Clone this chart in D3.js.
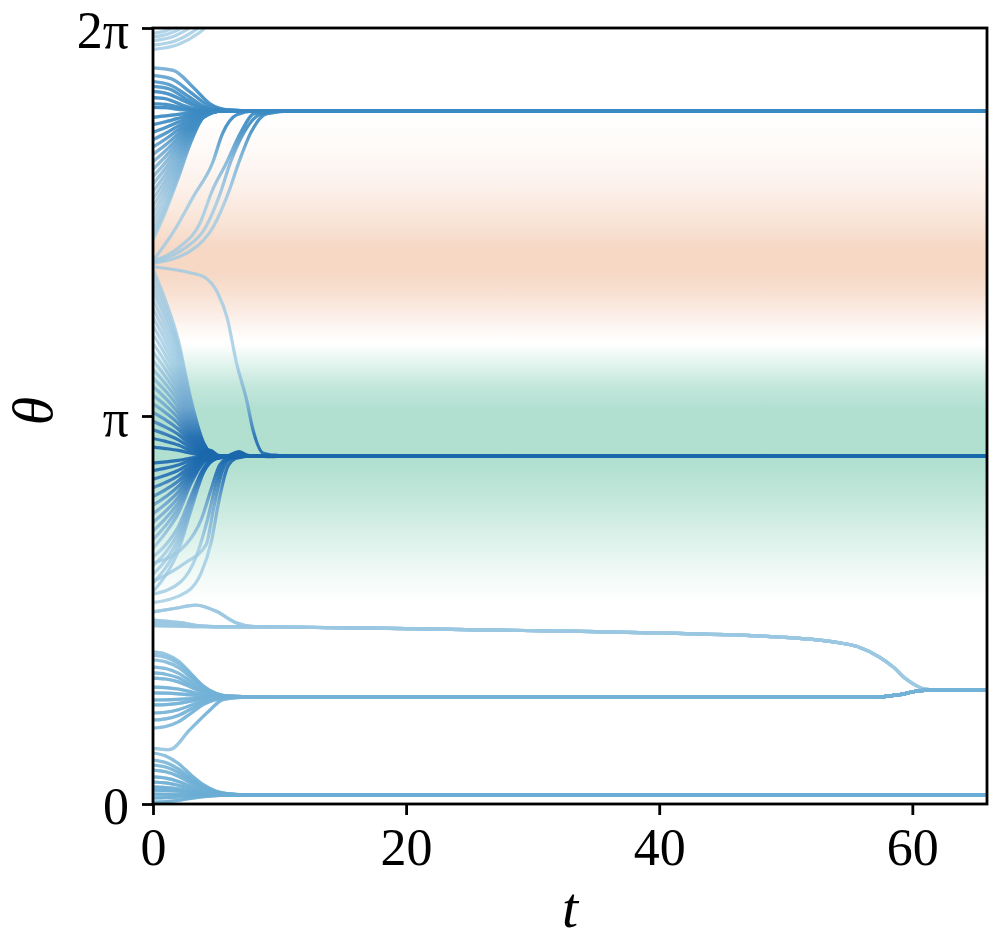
<!DOCTYPE html>
<html><head><meta charset="utf-8">
<script src="https://cdn.jsdelivr.net/npm/d3@7"></script>
<style>body{margin:0;background:#fff}</style>
</head><body><svg id="chart" width="998" height="950"></svg>
<script>
// ---------- data ----------
const xTicks = [0, 20, 40, 60];
const yTicks = [0, Math.PI, 2 * Math.PI];
const yTickLabels = ["0", "π", "2π"];
const tMax = 65.9;

// background scalar field along θ (negative = green, positive = orange)
const fieldTheta = [0, 1.62, 1.9, 2.2, 2.5, 2.75, 3.2, 3.4, 3.55, 3.68, 3.72, 3.78, 3.95, 4.15, 4.3, 4.5, 4.75, 5.0, 5.3, 5.6, 6.2832];
const fieldValue = [0, 0, -0.2, -0.5, -0.8, -1, -1, -0.75, -0.4, -0.1, 0, 0.05, 0.4, 0.8, 1, 1, 0.65, 0.35, 0.12, 0, 0];

// settled phase of each cluster
const clusterTheta = { A: 5.611, B: 2.818, C: 1.433, D: 0.866, E: 0.073 };

// trajectories as [t, θ] samples
const trajA = [
  [[0,5.96],[1.6,5.94],[3.2,5.80],[4.5,5.67],[6,5.62],[8,5.611],[66,5.611]],
  [[0,5.90],[1.5,5.87],[3,5.76],[4.3,5.66],[5.8,5.62],[8,5.611],[66,5.611]],
  [[0,5.85],[1.4,5.82],[2.8,5.73],[4,5.65],[5.5,5.615],[8,5.611],[66,5.611]],
  [[0,5.81],[1.3,5.79],[2.6,5.71],[3.8,5.645],[5.2,5.615],[8,5.611],[66,5.611]],
  [[0,5.77],[1.2,5.75],[2.5,5.69],[3.6,5.64],[5,5.615],[8,5.611],[66,5.611]],
  [[0,5.72],[1,5.71],[2.3,5.66],[3.5,5.625],[4.8,5.613],[8,5.611],[66,5.611]],
  [[0,5.67],[1,5.665],[2.2,5.64],[3.4,5.618],[4.6,5.612],[8,5.611],[66,5.611]],
  [[0,5.64],[1,5.638],[2,5.625],[3.3,5.613],[8,5.611],[66,5.611]],
  [[0,5.56],[1,5.571],[2,5.584],[3,5.599],[4,5.608],[5.5,5.611],[66,5.611]],
  [[0,5.50],[1,5.524],[2,5.553],[3,5.584],[4,5.605],[5.5,5.611],[66,5.611]],
  [[0,5.44],[1,5.478],[2,5.522],[3,5.570],[4,5.602],[5.5,5.611],[66,5.611]],
  [[0,5.38],[1,5.431],[2,5.491],[3,5.556],[4,5.599],[5.5,5.611],[66,5.611]],
  [[0,5.32],[1,5.384],[2,5.460],[3,5.541],[4,5.596],[5.5,5.611],[66,5.611]],
  [[0,5.26],[1,5.337],[2,5.428],[3,5.527],[4,5.593],[5.5,5.611],[66,5.611]],
  [[0,5.20],[1,5.290],[2,5.397],[3,5.512],[4,5.590],[5.5,5.611],[66,5.611]],
  [[0,5.14],[1,5.244],[2,5.366],[3,5.498],[4,5.587],[5.5,5.611],[66,5.611]],
  [[0,5.08],[1,5.197],[2,5.335],[3,5.484],[4,5.584],[5.5,5.611],[66,5.611]],
  [[0,5.02],[1,5.150],[2,5.304],[3,5.469],[4,5.581],[5.5,5.611],[66,5.611]],
  [[0,4.96],[1,5.103],[2,5.272],[3,5.455],[4,5.578],[5.5,5.611],[66,5.611]],
  [[0,4.90],[1,5.056],[2,5.241],[3,5.440],[4,5.575],[5.5,5.611],[66,5.611]],
  [[0,4.84],[1,5.010],[2,5.210],[3,5.426],[4,5.572],[5.5,5.611],[66,5.611]],
  [[0,4.78],[1,4.963],[2,5.179],[3,5.412],[4,5.569],[5.5,5.611],[66,5.611]],
  [[0,4.72],[1,4.916],[2,5.148],[3,5.397],[4,5.566],[5.5,5.611],[66,5.611]],
  [[0,4.66],[1,4.869],[2,5.116],[3,5.383],[4,5.563],[5.5,5.611],[66,5.611]],
  [[0,4.61],[1,4.830],[2,5.090],[3,5.371],[4,5.561],[5.5,5.611],[66,5.611]],
  [[0,4.57],[1,4.799],[2,5.070],[3,5.361],[4,5.559],[5.5,5.611],[66,5.611]],
  [[0,4.40],[1.6,4.63],[3.2,4.92],[4.7,5.19],[5.5,5.43],[6.6,5.58],[8,5.611],[66,5.611]],
  [[0,4.40],[2.1,4.51],[3.7,4.70],[4.7,4.97],[5.8,5.19],[6.9,5.43],[8,5.59],[10,5.611],[66,5.611]],
  [[0,4.39],[2.5,4.50],[4.1,4.66],[5.3,4.94],[6.1,5.19],[7.2,5.44],[8.6,5.59],[10.5,5.611],[66,5.611]],
  [[0,4.38],[3,4.48],[4.8,4.68],[6.0,4.96],[6.8,5.20],[7.7,5.43],[9,5.59],[11,5.611],[66,5.611]]
];

const trajB = [
  [[0,4.35],[3,4.30],[4,4.27],[5.1,4.14],[5.85,3.94],[6.6,3.57],[7.4,3.27],[7.9,3.03],[8.7,2.84],[10,2.82],[66,2.818]],
  [[0,4.33],[1,4.073],[2,3.755],[3,3.272],[4,2.924],[5,2.818],[66,2.818]],
  [[0,4.27],[1,4.023],[2,3.718],[3,3.254],[4,2.920],[5,2.818],[66,2.818]],
  [[0,4.21],[1,3.973],[2,3.681],[3,3.236],[4,2.915],[5,2.818],[66,2.818]],
  [[0,4.15],[1,3.924],[2,3.644],[3,3.218],[4,2.911],[5,2.818],[66,2.818]],
  [[0,4.08],[1,3.865],[2,3.600],[3,3.197],[4,2.906],[5,2.818],[66,2.818]],
  [[0,4.01],[1,3.807],[2,3.557],[3,3.176],[4,2.901],[5,2.818],[66,2.818]],
  [[0,3.94],[1,3.749],[2,3.513],[3,3.155],[4,2.897],[5,2.818],[66,2.818]],
  [[0,3.87],[1,3.691],[2,3.470],[3,3.134],[4,2.892],[5,2.818],[66,2.818]],
  [[0,3.80],[1,3.633],[2,3.427],[3,3.113],[4,2.887],[5,2.818],[66,2.818]],
  [[0,3.73],[1,3.575],[2,3.383],[3,3.092],[4,2.882],[5,2.818],[66,2.818]],
  [[0,3.66],[1,3.517],[2,3.340],[3,3.071],[4,2.877],[5,2.818],[66,2.818]],
  [[0,3.59],[1,3.459],[2,3.297],[3,3.050],[4,2.872],[5,2.818],[66,2.818]],
  [[0,3.52],[1,3.401],[2,3.255],[3,3.029],[4,2.867],[5,2.818],[66,2.818]],
  [[0,3.45],[1,3.343],[2,3.210],[3,3.008],[4,2.862],[5,2.818],[66,2.818]],
  [[0,3.38],[1,3.284],[2,3.166],[3,2.987],[4,2.857],[5,2.818],[66,2.818]],
  [[0,3.31],[1,3.226],[2,3.123],[3,2.966],[4,2.852],[5,2.818],[66,2.818]],
  [[0,3.24],[1,3.168],[2,3.080],[3,2.945],[4,2.848],[5,2.818],[66,2.818]],
  [[0,3.17],[1,3.110],[2,3.036],[3,2.924],[4,2.843],[5,2.818],[66,2.818]],
  [[0,3.10],[1,3.052],[2,2.993],[3,2.903],[4,2.838],[5,2.818],[66,2.818]],
  [[0,3.03],[1,2.994],[2,2.949],[3,2.882],[4,2.833],[5,2.818],[66,2.818]],
  [[0,2.96],[1,2.936],[2,2.906],[3,2.861],[4,2.828],[5,2.818],[66,2.818]],
  [[0,2.89],[1,2.878],[2,2.863],[3,2.840],[4,2.823],[5,2.818],[66,2.818]],
  [[0,2.76],[1,2.770],[2,2.782],[3,2.801],[4,2.814],[5,2.818],[66,2.818]],
  [[0,2.70],[1,2.720],[2,2.745],[3,2.783],[4,2.810],[5,2.818],[66,2.818]],
  [[0,2.63],[1,2.662],[2,2.701],[3,2.762],[4,2.805],[5,2.818],[66,2.818]],
  [[0,2.56],[1,2.604],[2,2.658],[3,2.741],[4,2.800],[5,2.818],[66,2.818]],
  [[0,2.49],[1,2.546],[2,2.615],[3,2.720],[4,2.795],[5,2.818],[66,2.818]],
  [[0,2.42],[1,2.488],[2,2.571],[3,2.699],[4,2.790],[5,2.818],[66,2.818]],
  [[0,2.35],[1,2.430],[2,2.528],[3,2.678],[4,2.785],[5,2.818],[66,2.818]],
  [[0,2.28],[1,2.371],[2,2.484],[3,2.657],[4,2.780],[5,2.818],[66,2.818]],
  [[0,2.21],[1,2.313],[2,2.441],[3,2.636],[4,2.775],[5,2.818],[66,2.818]],
  [[0,2.14],[1,2.255],[2,2.398],[3,2.615],[4,2.771],[5,2.818],[66,2.818]],
  [[0,2.07],[1,2.197],[2,2.354],[3,2.594],[4,2.766],[5,2.818],[66,2.818]],
  [[0,2.00],[1,2.098],[2,2.245],[3,2.491],[4,2.720],[5,2.802],[6.5,2.818],[66,2.818]],
  [[0,1.93],[1,2.037],[2,2.196],[3,2.463],[4,2.711],[5,2.800],[6.5,2.818],[66,2.818]],
  [[0,1.86],[1,1.975],[2,2.147],[3,2.435],[4,2.703],[5,2.799],[6.5,2.818],[66,2.818]],
  [[0,1.79],[1,1.913],[2,2.098],[3,2.407],[4,2.695],[5,2.797],[6.5,2.818],[66,2.818]],
  [[0,1.72],[1,1.852],[2,2.049],[3,2.379],[4,2.686],[5,2.796],[6.5,2.818],[66,2.818]],
  [[0,1.63],[2.7,1.72],[3.8,1.87],[4.6,2.12],[5.2,2.45],[5.9,2.73],[6.6,2.80],[8,2.818],[66,2.818]],
  [[0,1.70],[2.2,1.80],[3.4,2.00],[4.3,2.30],[5.0,2.60],[5.7,2.78],[7,2.815],[8.5,2.818],[66,2.818]],
  [[0,1.80],[2.5,1.95],[4.2,2.10],[4.8,2.40],[5.5,2.70],[6.2,2.80],[7.5,2.818],[66,2.818]],
  [[0,1.95],[2.6,2.10],[3.8,2.30],[4.6,2.55],[5.3,2.75],[6.2,2.81],[8,2.818],[66,2.818]]
];

// thickened, oscillating part of the middle cluster: [t, lower θ, upper θ]
const envelopeB = [[3.5,2.815,2.822],[3.9,2.79,2.86],[4.3,2.77,2.88],[4.8,2.78,2.865],[5.2,2.80,2.835],[5.7,2.808,2.828],[6.3,2.80,2.85],[6.8,2.795,2.866],[7.4,2.805,2.84],[8.0,2.81,2.826],[9.0,2.80,2.832],[9.6,2.80,2.835],[10.3,2.812,2.824]];

const tailC = [[20,1.42],[35,1.395],[49.5,1.352],[54.3,1.304],[55.8,1.27],[57.4,1.19],[58.6,1.10],[59.4,1.02],[60.2,0.965],[61,0.93],[62,0.923],[66,0.923]];
const trajC = [
  [[0,1.49],[2,1.47],[4,1.44],[6,1.435],[10,1.433]],
  [[0,1.465],[2,1.455],[4,1.438],[6,1.434],[10,1.433]],
  [[0,1.445],[2,1.44],[4,1.435],[10,1.433]],
  [[0,1.555],[1.8,1.585],[3.4,1.61],[5,1.56],[6.5,1.47],[8,1.437],[10,1.433]]
];

const tailD = [[10,0.866],[55.8,0.866],[57.4,0.868],[59,0.885],[60.6,0.918],[62,0.923],[66,0.923]];
const trajD = [
  [[0,1.231],[1,1.213],[2,1.158],[3,1.056],[4,0.954],[5,0.895],[6,0.873]],
  [[0,1.206],[1,1.189],[2,1.138],[3,1.043],[4,0.948],[5,0.893],[6,0.873]],
  [[0,1.166],[1,1.151],[2,1.106],[3,1.022],[4,0.938],[5,0.890],[6,0.872]],
  [[0,1.109],[1,1.097],[2,1.060],[3,0.992],[4,0.924],[5,0.885],[6,0.871]],
  [[0,1.061],[1,1.051],[2,1.022],[3,0.967],[4,0.913],[5,0.882],[6,0.870]],
  [[0,1.020],[1,1.012],[2,0.989],[3,0.946],[4,0.903],[5,0.878],[6,0.869]],
  [[0,0.947],[1,0.943],[2,0.931],[3,0.908],[4,0.885],[5,0.872],[6,0.868]],
  [[0,0.899],[1,0.897],[2,0.892],[3,0.883],[4,0.874],[5,0.869],[6,0.867]],
  [[0,0.842],[1,0.843],[2,0.847],[3,0.854],[4,0.860],[5,0.864],[6,0.866]],
  [[0,0.802],[1,0.805],[2,0.815],[3,0.833],[4,0.851],[5,0.861],[6,0.865]],
  [[0,0.737],[1,0.743],[2,0.763],[3,0.799],[4,0.835],[5,0.856],[6,0.863]],
  [[0,0.680],[1,0.689],[2,0.717],[3,0.769],[4,0.821],[5,0.851],[6,0.862]],
  [[0,0.615],[1,0.627],[2,0.665],[3,0.735],[4,0.806],[5,0.846],[6,0.861]],
  [[0,0.45],[1.3,0.44],[2.9,0.60],[4.5,0.76],[5.5,0.845],[7,0.866]]
];

const trajE = [
  [[0,0.413],[1,0.389],[2,0.328],[3,0.236],[4,0.155],[5,0.104],[6,0.083],[8,0.073],[66,0.073]],
  [[0,0.356],[1,0.336],[2,0.285],[3,0.209],[4,0.141],[5,0.098],[6,0.081],[8,0.073],[66,0.073]],
  [[0,0.316],[1,0.299],[2,0.255],[3,0.190],[4,0.131],[5,0.095],[6,0.080],[8,0.073],[66,0.073]],
  [[0,0.275],[1,0.261],[2,0.225],[3,0.170],[4,0.121],[5,0.091],[6,0.079],[8,0.073],[66,0.073]],
  [[0,0.219],[1,0.209],[2,0.183],[3,0.143],[4,0.108],[5,0.086],[6,0.077],[8,0.073],[66,0.073]],
  [[0,0.178],[1,0.171],[2,0.152],[3,0.123],[4,0.098],[5,0.082],[6,0.076],[8,0.073],[66,0.073]],
  [[0,0.138],[1,0.133],[2,0.122],[3,0.104],[4,0.089],[5,0.079],[6,0.075],[8,0.073],[66,0.073]],
  [[0,0.113],[1,0.110],[2,0.103],[3,0.092],[4,0.083],[5,0.077],[6,0.074],[8,0.073],[66,0.073]],
  [[0,0.080],[2,0.078],[4,0.075],[8,0.073],[66,0.073]],
  [[0,0.049],[1,0.051],[2,0.055],[3,0.061],[4,0.067],[5,0.071],[6,0.072],[8,0.073],[66,0.073]],
  [[0,0.016],[1,0.020],[2,0.030],[3,0.046],[4,0.059],[5,0.068],[6,0.071],[8,0.073],[66,0.073]]
];

// trajectories leaving through θ = 2π (they wrap round to the bottom cluster)
const trajWrap = [
  [[0,6.24],[1,6.26],[2,6.30],[2.5,6.33]],
  [[0,6.21],[1.2,6.235],[2.4,6.29],[3,6.33]],
  [[0,6.18],[1.5,6.21],[3,6.29],[3.6,6.33]],
  [[0,6.145],[1.8,6.18],[3.4,6.27],[4.2,6.33]],
  [[0,6.11],[2,6.15],[3.6,6.24],[4.6,6.33]]
];

// ---------- drawing ----------
const svg = d3.select("#chart");
const pL = 153, pR = 987, pT = 28, pB = 804;
const x = d3.scaleLinear().domain([0, tMax]).range([pL, pR]);
const y = d3.scaleLinear().domain([0, 2 * Math.PI]).range([pB, pT]);
const defs = svg.append("defs");

// background field gradient
const fieldColor = d3.scaleLinear().domain([-1, 0, 1]).range(["#b1e0d1", "#ffffff", "#f6d8c5"]);
const bg = defs.append("linearGradient").attr("id", "bg")
  .attr("gradientUnits", "userSpaceOnUse").attr("x1", 0).attr("x2", 0)
  .attr("y1", y(0)).attr("y2", y(2 * Math.PI));
fieldTheta.forEach((th, i) => {
  bg.append("stop").attr("offset", th / (2 * Math.PI)).attr("stop-color", fieldColor(fieldValue[i]));
});
svg.append("rect").attr("x", pL).attr("y", pT).attr("width", pR - pL).attr("height", pB - pT)
  .attr("fill", "url(#bg)");

defs.append("clipPath").attr("id", "plotclip").append("rect")
  .attr("x", pL).attr("y", pT).attr("width", pR - pL).attr("height", pB - pT);

const line = d3.line().x(d => x(d[0])).y(d => y(d[1])).curve(d3.curveMonotoneX);

const groups = [
  { key: "W", lines: trajWrap, theta: null, count: trajE.length + trajWrap.length },
  { key: "E", lines: trajE, theta: clusterTheta.E, count: trajE.length + trajWrap.length },
  { key: "C", lines: trajC.map(l => l.concat(tailC)), theta: clusterTheta.C, count: trajC.length },
  { key: "D", lines: trajD.map(l => l.concat(tailD)), theta: clusterTheta.D, count: trajD.length },
  { key: "A", lines: trajA, theta: clusterTheta.A, count: trajA.length },
  { key: "B", lines: trajB, theta: clusterTheta.B, count: trajB.length }
];

const tone = d3.scaleLinear().domain([trajC.length, trajB.length]).range([0.38, 0.79]);
const baseColor = d3.interpolateBlues(0.37);
const band = 0.75;
const maskStops = [[-0.75, 0], [-0.4, 0.35], [-0.15, 0.9], [0, 1], [0.15, 0.9], [0.4, 0.35], [0.75, 0]];
const lw = 3.2;

const plot = svg.append("g").attr("clip-path", "url(#plotclip)");

groups.forEach(g => {
  const col = d3.interpolateBlues(tone(g.count));
  const gg = plot.append("g");
  gg.selectAll("path.base").data(g.lines).join("path").attr("class", "base")
    .attr("d", line).attr("fill", "none").attr("stroke", baseColor)
    .attr("stroke-width", lw).attr("stroke-opacity", 0.8);
  if (g.theta !== null) {
    const grad = defs.append("linearGradient").attr("id", "mg-" + g.key)
      .attr("gradientUnits", "userSpaceOnUse").attr("x1", 0).attr("x2", 0)
      .attr("y1", y(g.theta + band)).attr("y2", y(g.theta - band));
    maskStops.forEach(s => grad.append("stop").attr("offset", (s[0] + band) / (2 * band))
      .attr("stop-color", "#fff").attr("stop-opacity", s[1]));
    const m = defs.append("mask").attr("id", "mk-" + g.key).attr("maskUnits", "userSpaceOnUse")
      .attr("x", 0).attr("y", 0).attr("width", 998).attr("height", 950);
    m.append("rect").attr("x", pL).attr("y", pT).attr("width", pR - pL).attr("height", pB - pT)
      .attr("fill", "url(#mg-" + g.key + ")");
    gg.append("g").attr("mask", "url(#mk-" + g.key + ")")
      .selectAll("path").data(g.lines).join("path")
      .attr("d", line).attr("fill", "none").attr("stroke", col)
      .attr("stroke-width", lw).attr("stroke-opacity", 0.9);
  }
  if (g.key === "B") {
    const area = d3.area().x(d => x(d[0])).y0(d => y(d[1])).y1(d => y(d[2])).curve(d3.curveMonotoneX);
    gg.append("path").datum(envelopeB).attr("d", area).attr("fill", col);
  }
});

// ---------- axes ----------
const font = "'Liberation Serif', 'DejaVu Serif', serif";
const axisColor = "#000";
svg.append("rect").attr("x", pL).attr("y", pT).attr("width", pR - pL).attr("height", pB - pT)
  .attr("fill", "none").attr("stroke", axisColor).attr("stroke-width", 2.8);

const xAxis = svg.append("g").attr("transform", `translate(0,${pB})`)
  .call(d3.axisBottom(x).tickValues(xTicks).tickSize(11).tickPadding(14).tickFormat(d3.format("d")));
xAxis.select(".domain").remove();
xAxis.selectAll(".tick line").attr("stroke", axisColor).attr("stroke-width", 2.8);
xAxis.selectAll(".tick text").attr("font-family", font).attr("font-size", 52).attr("fill", "#000")
  .attr("dy", null).attr("y", 61);

const yAxis = svg.append("g").attr("transform", `translate(${pL},0)`)
  .call(d3.axisLeft(y).tickValues(yTicks).tickSize(11).tickPadding(14).tickFormat((d, i) => yTickLabels[i]));
yAxis.select(".domain").remove();
yAxis.selectAll(".tick line").attr("stroke", axisColor).attr("stroke-width", 2.8);
yAxis.selectAll(".tick text").attr("font-family", font).attr("font-size", 52).attr("fill", "#000")
  .attr("dy", null).attr("y", 19).attr("x", -24);

svg.append("text").attr("x", 570).attr("y", 927).attr("text-anchor", "middle")
  .attr("font-family", font).attr("font-style", "italic").attr("font-size", 58).text("t");
svg.append("text").attr("transform", "translate(52,411) rotate(-90)").attr("text-anchor", "middle")
  .attr("font-family", font).attr("font-style", "italic").attr("font-size", 58).text("θ");
</script>
</body></html>
